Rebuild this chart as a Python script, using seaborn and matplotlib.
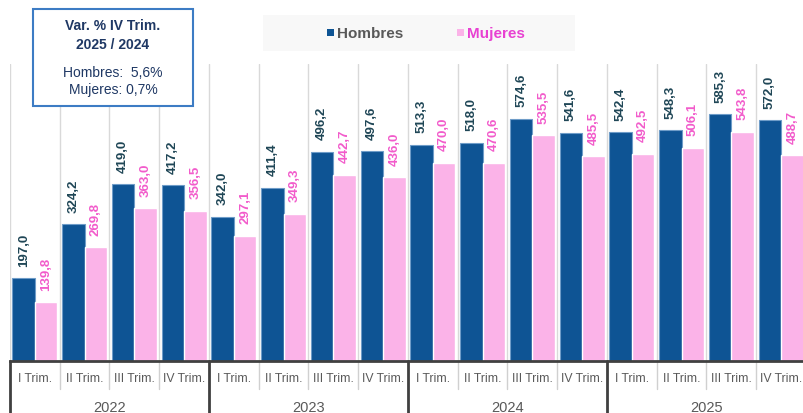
import pandas as pd
import matplotlib.pyplot as plt
import seaborn as sns
from matplotlib.patches import Rectangle

# data
years = ["2022", "2023", "2024", "2025"]
quarters = ["I Trim.", "II Trim.", "III Trim.", "IV Trim."]
hombres = [197.0, 324.2, 419.0, 417.2, 342.0, 411.4, 496.2, 497.6,
           513.3, 518.0, 574.6, 541.6, 542.4, 548.3, 585.3, 572.0]
mujeres = [139.8, 269.8, 363.0, 356.5, 297.1, 349.3, 442.7, 436.0,
           470.0, 470.6, 535.5, 485.5, 492.5, 506.1, 543.8, 488.7]

C_H = "#0E5494"
C_M = "#FBB3E8"
TXT_H = "#1F4656"
TXT_M = "#F25BCB"
NARROW = ["Liberation Sans Narrow", "Liberation Sans", "DejaVu Sans"]


def build_frame():
    periods = [f"{y} {q}" for y in years for q in quarters]
    df = pd.DataFrame({
        "periodo": periods * 2,
        "sexo": ["Hombres"] * len(periods) + ["Mujeres"] * len(periods),
        "valor": hombres + mujeres,
    })
    return df, periods


def main():
    sns.set_theme(style="white")
    plt.rcParams["font.family"] = NARROW

    df, periods = build_frame()
    fig = plt.figure(figsize=(8.04, 4.14), dpi=100)
    ax = fig.add_axes([10 / 804, 52 / 414, 796 / 804, 297 / 414])

    sns.barplot(data=df, x="periodo", y="valor", hue="sexo", order=periods,
                palette={"Hombres": C_H, "Mujeres": C_M}, width=0.9,
                legend=False, ax=ax, saturation=1)
    for c, col in zip(ax.containers, [TXT_H, TXT_M]):
        ax.bar_label(c, labels=[f"{v:.1f}".replace(".", ",") for v in c.datavalues],
                     rotation=90, padding=9, color=col, fontsize=9.5,
                     fontweight="bold")
    for p in ax.containers[0]:
        p.set_edgecolor("#6E9CC8")
        p.set_linewidth(0.8)

    n = len(periods)
    ax.set_xlim(-0.5, n - 0.5)
    ax.set_ylim(0, 705)
    ax.set_xlabel("")
    ax.set_ylabel("")
    ax.set_yticks([])
    for s in ["top", "left", "right"]:
        ax.spines[s].set_visible(False)
    ax.spines["bottom"].set_color("#404040")
    ax.spines["bottom"].set_linewidth(2)

    # vertical grid between groups
    for i in range(n + 1):
        ax.axvline(i - 0.5, color="#D9D9D9", lw=1, zorder=0)

    ax.set_xticks(range(n))
    ax.set_xticklabels(quarters * len(years), fontsize=8.8, color="#595959")
    ax.tick_params(axis="x", length=0, pad=8)

    tr = ax.get_xaxis_transform()
    for i in range(n + 1):
        if i % 4 == 0:
            ax.plot([i - 0.5, i - 0.5], [0, -0.2], transform=tr, color="#404040",
                    lw=2, clip_on=False)
        else:
            ax.plot([i - 0.5, i - 0.5], [0, -0.095], transform=tr, color="#D0D0D0",
                    lw=1, clip_on=False)
    for k, y in enumerate(years):
        ax.text(4 * k + 1.5, -0.155, y, transform=tr, ha="center", va="center",
                fontsize=10.5, color="#595959")

    # legend
    fig.patches.append(Rectangle((263 / 804, 1 - 52 / 414), 312 / 804, 36 / 414,
                                 transform=fig.transFigure, facecolor="#F8F8F8",
                                 edgecolor="none", zorder=0))
    fig.patches.append(Rectangle((327 / 804, 1 - 37 / 414), 7 / 804, 7 / 414,
                                 transform=fig.transFigure, facecolor=C_H,
                                 edgecolor="none"))
    fig.text(337 / 804, 1 - 34 / 414, "Hombres", ha="left", va="center",
             fontsize=11, fontweight="bold", color="#595959",
             family=["Liberation Sans", "DejaVu Sans"])
    fig.patches.append(Rectangle((457 / 804, 1 - 37 / 414), 7 / 804, 7 / 414,
                                 transform=fig.transFigure, facecolor=C_M,
                                 edgecolor="none"))
    fig.text(467 / 804, 1 - 34 / 414, "Mujeres", ha="left", va="center",
             fontsize=11, fontweight="bold", color="#E841D2",
             family=["Liberation Sans", "DejaVu Sans"])

    # variation box
    fig.patches.append(Rectangle((33 / 804, 1 - 107 / 414), 160 / 804, 97 / 414,
                                 transform=fig.transFigure, facecolor="white",
                                 edgecolor="#3D7CC4", lw=1.5, zorder=5))
    box_kw = dict(ha="center", va="center", color="#1F3864", zorder=6,
                  family=["Liberation Sans", "DejaVu Sans"])
    fig.text(113 / 804, 1 - 26 / 414, "Var. % IV Trim.", fontsize=10,
             fontweight="bold", **box_kw)
    fig.text(113 / 804, 1 - 45 / 414, "2025 / 2024", fontsize=10,
             fontweight="bold", **box_kw)
    fig.text(113 / 804, 1 - 73 / 414, "Hombres:  5,6%", fontsize=10, **box_kw)
    fig.text(113 / 804, 1 - 90 / 414, "Mujeres: 0,7%", fontsize=10, **box_kw)

    fig.savefig("out.png", dpi=100)


if __name__ == "__main__":
    main()
